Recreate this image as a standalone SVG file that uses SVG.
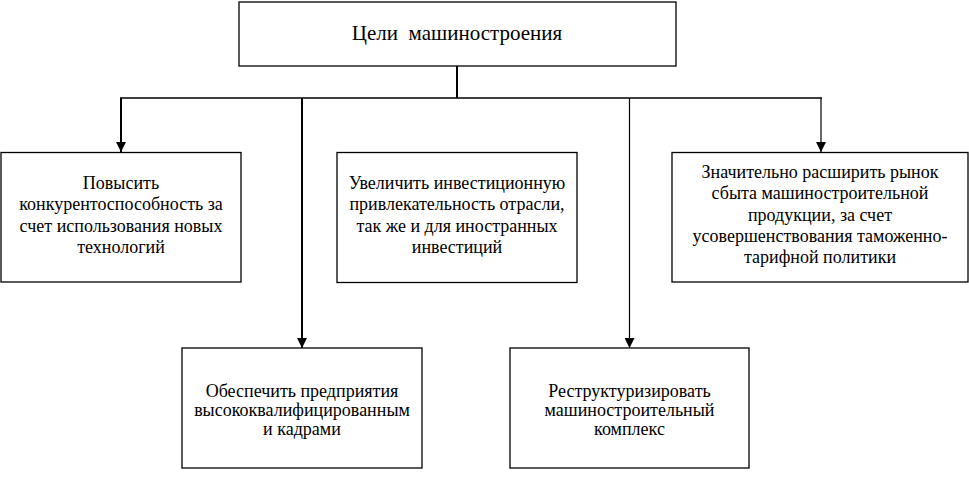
<svg xmlns="http://www.w3.org/2000/svg" width="969" height="479" viewBox="0 0 969 479">
<defs>
<style>
.box{fill:#fff;stroke:#000;stroke-width:1.3}
text{font-family:'Liberation Serif','DejaVu Serif',serif;font-size:18px;fill:#000;text-anchor:middle}
.title{font-size:21px}
.ln{stroke:#000;fill:none}
</style>
<marker id="ah" viewBox="0 0 10 10" refX="10" refY="5" markerWidth="10" markerHeight="10" markerUnits="userSpaceOnUse" orient="auto">
<path d="M0,0 L10,5 L0,10 Z" fill="#000"/>
</marker>
</defs>
<rect width="969" height="479" fill="#fff"/>
<g id="connectors">
<line class="ln" x1="457" y1="66" x2="457" y2="98" stroke-width="2"/>
<line class="ln" x1="120" y1="98" x2="822" y2="98" stroke-width="1.5"/>
<line class="ln" x1="121" y1="98" x2="121" y2="152" stroke-width="2" marker-end="url(#ah)"/>
<line class="ln" x1="302" y1="98" x2="302" y2="348" stroke-width="2" marker-end="url(#ah)"/>
<line class="ln" x1="629.5" y1="98" x2="629.5" y2="348" stroke-width="1.2" marker-end="url(#ah)"/>
<line class="ln" x1="821" y1="98" x2="821" y2="152" stroke-width="1.2" marker-end="url(#ah)"/>
</g>
<g id="root">
<rect class="box" x="239" y="2" width="437" height="64" stroke-width="2"/>
<text class="title" x="457" y="40" xml:space="preserve">Цели  машиностроения</text>
</g>
<g id="n1">
<rect class="box" x="1" y="152.5" width="240" height="129.5"/>
<text x="121" y="189">Повысить</text>
<text x="121" y="210">конкурентоспособность за</text>
<text x="121" y="232">счет использования новых</text>
<text x="121" y="253">технологий</text>
</g>
<g id="n2">
<rect class="box" x="337" y="152.5" width="240" height="130"/>
<text x="457" y="189">Увеличить инвестиционную</text>
<text x="457" y="210">привлекательность отрасли,</text>
<text x="457" y="232">так же и для иностранных</text>
<text x="457" y="253">инвестиций</text>
</g>
<g id="n3">
<rect class="box" x="672" y="152.5" width="296" height="129.5"/>
<text x="820" y="178">Значительно расширить рынок</text>
<text x="820" y="199">сбыта машиностроительной</text>
<text x="820" y="221">продукции, за счет</text>
<text x="820" y="242">усовершенствования таможенно-</text>
<text x="820" y="263">тарифной политики</text>
</g>
<g id="n4">
<rect class="box" x="182" y="348" width="240" height="120"/>
<text x="302" y="397">Обеспечить предприятия</text>
<text x="302" y="416">высококвалифицированным</text>
<text x="302" y="435">и кадрами</text>
</g>
<g id="n5">
<rect class="box" x="510" y="348" width="239" height="120"/>
<text x="629.5" y="397">Реструктуризировать</text>
<text x="629.5" y="416">машиностроительный</text>
<text x="629.5" y="435">комплекс</text>
</g>
</svg>
